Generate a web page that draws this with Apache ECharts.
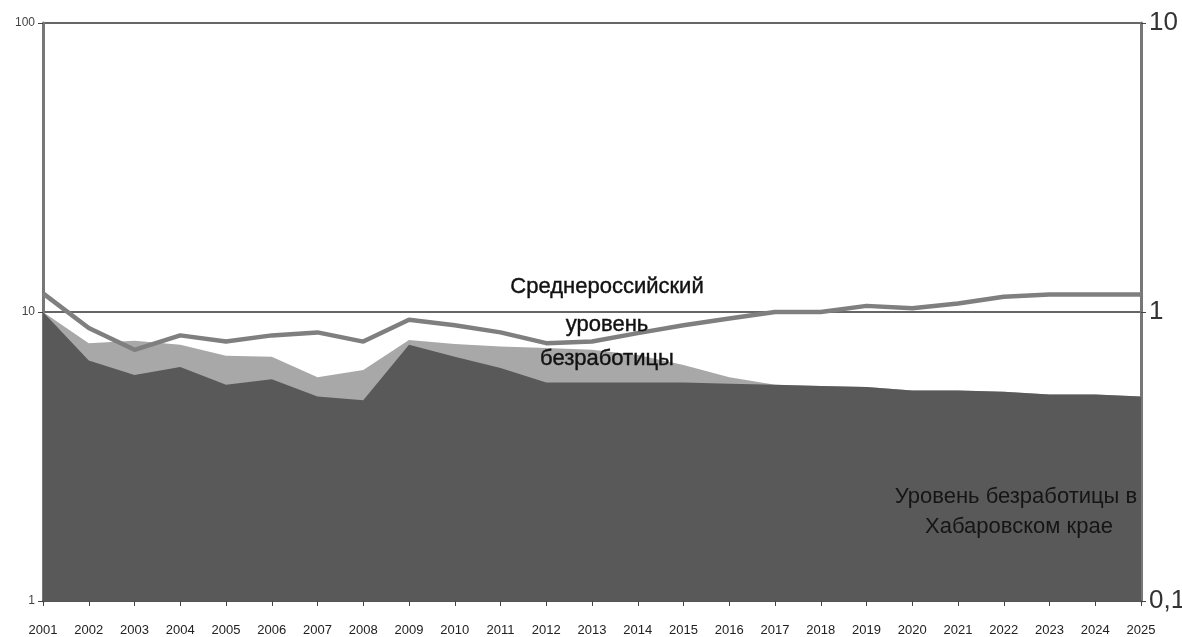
<!DOCTYPE html>
<html>
<head>
<meta charset="utf-8">
<script src="https://cdn.jsdelivr.net/npm/echarts@6/dist/echarts.min.js"></script>
<style>
  html, body { margin: 0; padding: 0; background: #fff; }
  #main { width: 1182px; height: 637px; }
</style>
</head>
<body>
<div id="main"></div>
<script>
// годы по оси X
var years = ['2001', '2002', '2003', '2004', '2005', '2006', '2007', '2008', '2009', '2010',
  '2011', '2012', '2013', '2014', '2015', '2016', '2017', '2018', '2019', '2020',
  '2021', '2022', '2023', '2024', '2025']
// уровень безработицы в Хабаровском крае (тёмная область)
var khabarovsk = [10, 6.8, 6.05, 6.45, 5.6, 5.85, 5.1, 4.95, 7.7, 7.0,
  6.4, 5.7, 5.7, 5.7, 5.7, 5.65, 5.6, 5.55, 5.5, 5.35,
  5.35, 5.3, 5.18, 5.18, 5.1]
// светлая область
var lightArea = [10, 7.8, 7.95, 7.7, 7.05, 7.0, 5.95, 6.3, 8.0, 7.75,
  7.6, 7.5, 7.4, 7.1, 6.55, 5.95, 5.6, 5.55, 5.5, 5.35,
  5.35, 5.3, 5.18, 5.18, 5.1]
// среднероссийский уровень безработицы (линия)
var russia = [11.6, 8.8, 7.4, 8.3, 7.9, 8.3, 8.5, 7.9, 9.4, 9.0,
  8.5, 7.8, 7.9, 8.45, 9.0, 9.5, 10.0, 10.0, 10.5, 10.3,
  10.7, 11.3, 11.5, 11.5, 11.5]
// подписи правой оси
var rightLabels = { 0.1: '0,1', 1: '1', 10: '10' }

var labelFont = '22px "Liberation Sans"'

var chart = echarts.init(document.getElementById('main'))
chart.setOption({
  animation: false,
  grid: { left: 43, right: 41, top: 23, bottom: 36, outerBoundsMode: 'none', containLabel: false },
  xAxis: {
    type: 'category',
    data: years,
    boundaryGap: false,
    axisLine: { show: true, lineStyle: { color: '#555', width: 2 } },
    axisTick: { show: true, alignWithLabel: true, length: 5, lineStyle: { color: '#444' } },
    axisLabel: { interval: 0, color: '#222', fontSize: 13, fontFamily: 'Liberation Sans', margin: 23 }
  },
  yAxis: [
    {
      type: 'log',
      logBase: 10,
      min: 1,
      max: 100,
      axisLine: { show: true, lineStyle: { color: '#777', width: 3 } },
      axisTick: { show: true, length: 5, lineStyle: { color: '#444' } },
      axisLabel: { color: '#444', fontSize: 12, fontFamily: 'Liberation Sans', margin: 8 },
      splitLine: { show: true, lineStyle: { color: '#333', width: 1.5 } }
    },
    {
      type: 'log',
      logBase: 10,
      min: 0.1,
      max: 10,
      position: 'right',
      axisLine: { show: true, lineStyle: { color: '#777', width: 3 } },
      axisTick: { show: true, length: 5, lineStyle: { color: '#444' } },
      axisLabel: {
        color: '#333', fontSize: 26, fontFamily: 'Liberation Sans', margin: 8,
        formatter: function (v) { return rightLabels[v] || '' }
      },
      splitLine: { show: false }
    }
  ],
  series: [
    {
      name: 'light',
      type: 'line',
      data: lightArea,
      symbol: 'none',
      lineStyle: { width: 0 },
      areaStyle: { color: '#a8a8a8', opacity: 1, origin: 1 },
      z: 1
    },
    {
      name: 'Хабаровский край',
      type: 'line',
      data: khabarovsk,
      symbol: 'none',
      lineStyle: { width: 0 },
      areaStyle: { color: '#595959', opacity: 1, origin: 1 },
      z: 2
    },
    {
      name: 'Россия',
      type: 'line',
      data: russia,
      symbol: 'none',
      lineStyle: { color: '#7f7f7f', width: 4.5 },
      z: 3
    }
  ],
  graphic: [
    { type: 'text', z: 100, style: { text: 'Среднероссийский', x: 607, y: 287, align: 'center', verticalAlign: 'middle', font: labelFont, fill: '#111', stroke: '#111', lineWidth: 0.4 } },
    { type: 'text', z: 100, style: { text: 'уровень', x: 607, y: 325, align: 'center', verticalAlign: 'middle', font: labelFont, fill: '#111', stroke: '#111', lineWidth: 0.4 } },
    { type: 'text', z: 100, style: { text: 'безработицы', x: 607, y: 359, align: 'center', verticalAlign: 'middle', font: labelFont, fill: '#111', stroke: '#111', lineWidth: 0.4 } },
    { type: 'text', z: 100, style: { text: 'Уровень безработицы в', x: 1016, y: 497, align: 'center', verticalAlign: 'middle', font: labelFont, fill: '#151515' } },
    { type: 'text', z: 100, style: { text: 'Хабаровском крае', x: 1019, y: 527, align: 'center', verticalAlign: 'middle', font: labelFont, fill: '#151515' } }
  ]
})
</script>
</body>
</html>
